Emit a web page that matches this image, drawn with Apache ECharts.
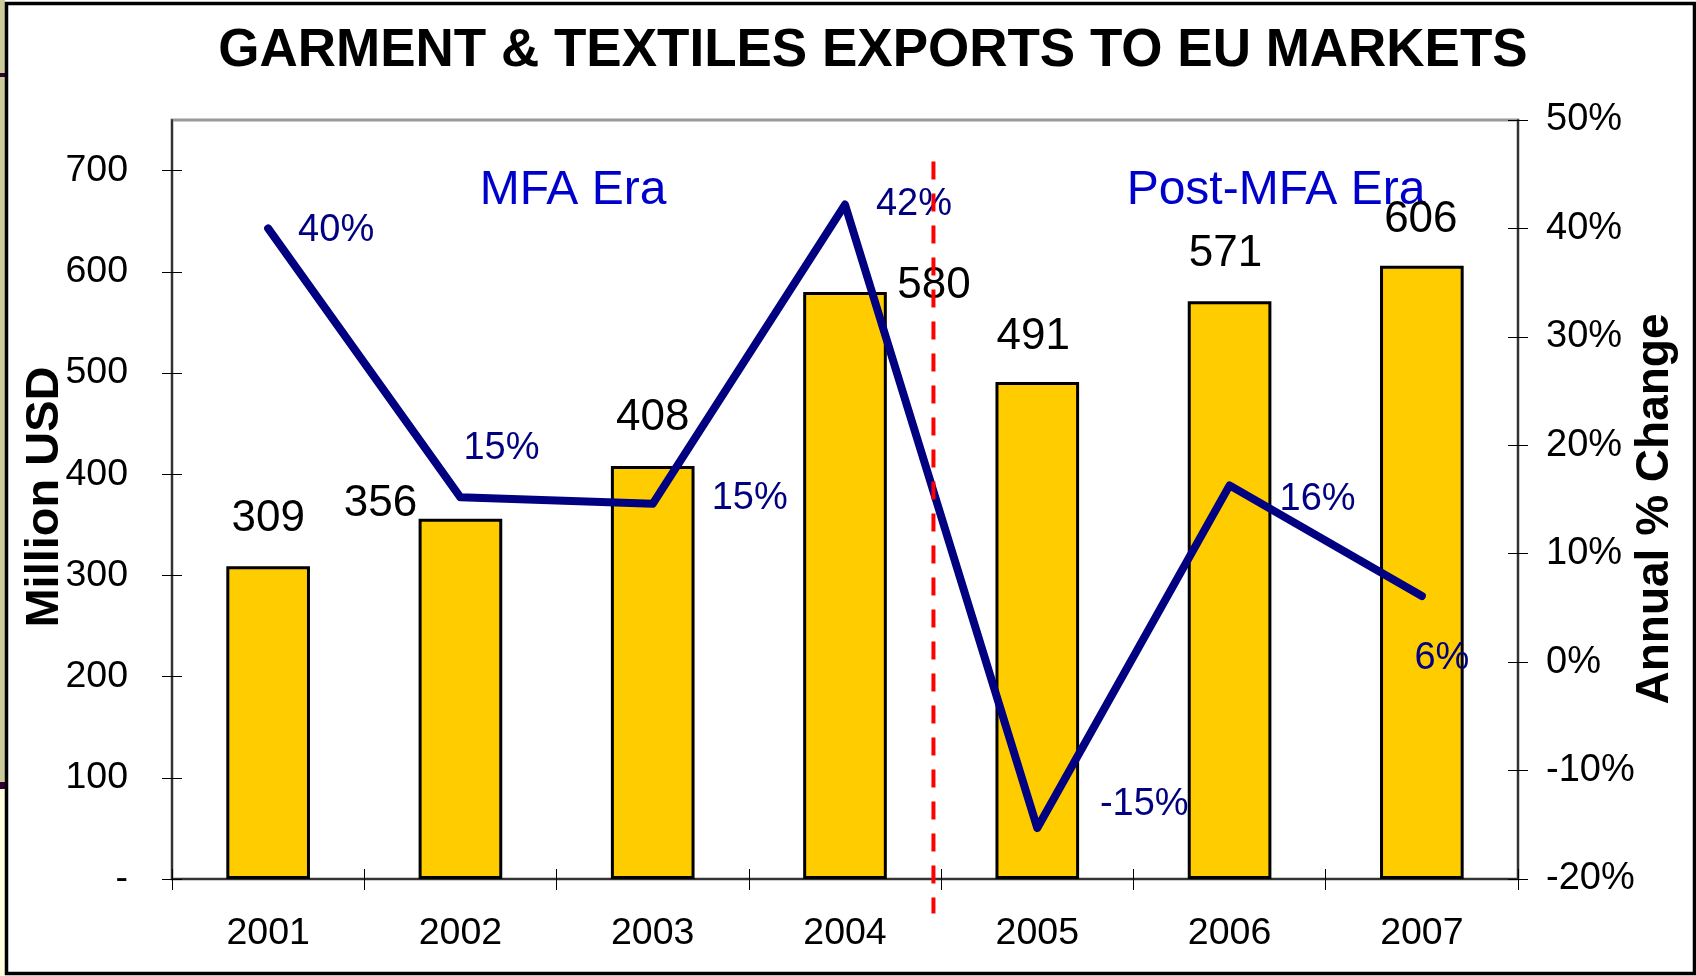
<!DOCTYPE html>
<html>
<head>
<meta charset="utf-8">
<script src="https://cdn.jsdelivr.net/npm/echarts@6/dist/echarts.min.js"></script>
<style>
  html, body { margin: 0; padding: 0; background: #ffffff; }
  #chart { width: 1696px; height: 976px; }
</style>
</head>
<body>
<div id="chart"></div>
<script>
// ---------------- data ----------------
const categories = ['2001', '2002', '2003', '2004', '2005', '2006', '2007'];
const exportsMillionUSD = [309, 356, 408, 580, 491, 571, 606];
const annualChangePct = [40, 15.2, 14.6, 42.2, -15.3, 16.3, 6.1];
const leftTicks = [0, 100, 200, 300, 400, 500, 600, 700];
const rightTicks = [-20, -10, 0, 10, 20, 30, 40, 50];
const titleText = 'GARMENT & TEXTILES EXPORTS TO EU MARKETS';
const eraLabels = ['MFA Era', 'Post-MFA Era'];
const eraSplitPosition = 3.96; // in category units from the left edge

// ---------------- layout / style ----------------
const FONT = '"Liberation Sans", Arial, sans-serif';
const barLabelOffsets = [[0, -25], [-80, 7], [0, -26], [89, 16], [-4, -23], [-4, -25], [-1, -24]];
const lineLabelOffsets = [[68, 2], [41, -49], [97, -5], [69, 0], [107, -24], [88, 14], [20, 63]];

const chart = echarts.init(document.getElementById('chart'), null, { renderer: 'canvas' });

const grid = { left: 172, right: 178, top: 120, bottom: 97 };

const option = {
  animation: false,
  backgroundColor: '#ffffff',
  grid: Object.assign({ show: true, borderColor: '#9a9a9a', borderWidth: 3, backgroundColor: '#ffffff' }, grid),
  xAxis: [
    {
      type: 'category', data: categories, position: 'bottom', boundaryGap: true,
      axisLine: { show: true, onZero: false, lineStyle: { color: '#333', width: 2 } },
      axisTick: { show: true, inside: false, length: 11, lineStyle: { color: '#000', width: 1 } },
      axisLabel: { color: '#000', fontFamily: FONT, fontSize: 37.5, margin: 36 },
      splitLine: { show: false }
    },
    {
      type: 'category', data: categories, position: 'bottom', boundaryGap: true,
      axisLine: { show: false, onZero: false },
      axisTick: { show: true, inside: true, length: 10, lineStyle: { color: '#000', width: 1 } },
      axisLabel: { show: false }, splitLine: { show: false }
    },
    { type: 'value', min: 0, max: categories.length, show: false, axisLine: { onZero: false } }
  ],
  yAxis: [
    {
      type: 'value', min: 0, max: 750, interval: 100, position: 'left',
      axisLine: { show: true, onZero: false, lineStyle: { color: '#333', width: 2 } },
      axisTick: { show: true, inside: false, length: 10, customValues: leftTicks, lineStyle: { color: '#000', width: 1 } },
      axisLabel: {
        customValues: leftTicks, color: '#000', fontFamily: FONT, fontSize: 37.5, margin: 44,
        formatter: v => (v === 0 ? '-' : String(v))
      },
      splitLine: { show: false }
    },
    {
      type: 'value', min: -20, max: 50, interval: 10, position: 'right',
      axisLine: { show: true, onZero: false, lineStyle: { color: '#333', width: 2 } },
      axisTick: { show: true, inside: false, length: 10, lineStyle: { color: '#000', width: 1 } },
      axisLabel: { color: '#000', fontFamily: FONT, fontSize: 38, margin: 28, formatter: v => v + '%' },
      splitLine: { show: false }
    },
    {
      type: 'value', min: 0, max: 750, position: 'left',
      axisLine: { show: false, onZero: false },
      axisTick: { show: true, inside: true, length: 10, customValues: leftTicks, lineStyle: { color: '#000', width: 1 } },
      axisLabel: { show: false }, splitLine: { show: false }
    },
    {
      type: 'value', min: -20, max: 50, interval: 10, position: 'right',
      axisLine: { show: false, onZero: false },
      axisTick: { show: true, inside: true, length: 10, customValues: rightTicks, lineStyle: { color: '#000', width: 1 } },
      axisLabel: { show: false }, splitLine: { show: false }
    }
  ],
  series: [
    {
      type: 'bar', name: 'Exports', xAxisIndex: 0, yAxisIndex: 0, z: 2,
      barWidth: '43.5%',
      itemStyle: { color: '#FFCC00', borderColor: '#000000', borderWidth: 3 },
      label: {
        show: true, position: 'top', distance: 0, color: '#000', fontFamily: FONT,
        fontSize: 44, lineHeight: 44
      },
      data: exportsMillionUSD.map((v, i) => ({ value: v, label: { offset: barLabelOffsets[i] } }))
    },
    {
      type: 'line', name: 'Annual change', xAxisIndex: 0, yAxisIndex: 1, z: 4,
      symbol: 'circle', symbolSize: 1, showSymbol: true,
      itemStyle: { color: 'rgba(0,0,0,0)' },
      lineStyle: { color: '#000080', width: 8, join: 'round', cap: 'round' },
      label: {
        show: true, position: 'inside', color: '#000080', fontFamily: FONT, fontSize: 38,
        formatter: p => Math.round(p.value) + '%'
      },
      data: annualChangePct.map((v, i) => ({ value: v, label: { offset: lineLabelOffsets[i] } }))
    },
    {
      type: 'line', name: 'Era split', xAxisIndex: 2, yAxisIndex: 0, z: 5,
      clip: false, symbol: 'none', silent: true,
      lineStyle: { color: '#FF0000', width: 4, type: [18, 14] },
      data: [[eraSplitPosition, 709], [eraSplitPosition, -34]]
    }
  ],
  graphic: [
    // outer frame decorations
    { type: 'rect', shape: { x: 0, y: 0, width: 5, height: 782 }, style: { fill: '#CCCC99' }, silent: true },
    { type: 'rect', shape: { x: 0, y: 782, width: 5, height: 194 }, style: { fill: '#FFFFE0' }, silent: true },
    { type: 'rect', shape: { x: 0, y: 73, width: 5, height: 4 }, style: { fill: '#330033' }, silent: true },
    { type: 'rect', shape: { x: 0, y: 782, width: 5, height: 7 }, style: { fill: '#330033' }, silent: true },
    { type: 'rect', shape: { x: 6.5, y: 3.5, width: 1688, height: 970 }, style: { fill: null, stroke: '#000', lineWidth: 3.5 }, silent: true },
    // title
    {
      type: 'text', x: 873, y: 51, silent: true,
      style: { text: titleText, font: 'bold 53px ' + FONT, fill: '#000', align: 'center', verticalAlign: 'middle', textAlign: 'center', textVerticalAlign: 'middle' }
    },
    // axis names
    {
      type: 'text', x: 45, y: 497, rotation: Math.PI / 2, silent: true,
      style: { text: 'Million USD', font: 'bold 47px ' + FONT, fill: '#000', align: 'center', verticalAlign: 'middle', textAlign: 'center', textVerticalAlign: 'middle' }
    },
    {
      type: 'text', x: 1655, y: 509, rotation: Math.PI / 2, silent: true,
      style: { text: 'Annual % Change', font: 'bold 46px ' + FONT, fill: '#000', align: 'center', verticalAlign: 'middle', textAlign: 'center', textVerticalAlign: 'middle' }
    },
    // era labels
    {
      type: 'text', x: 573, y: 191, silent: true,
      style: { text: eraLabels[0], font: '48px ' + FONT, fill: '#0000CC', align: 'center', verticalAlign: 'middle', textAlign: 'center', textVerticalAlign: 'middle' }
    },
    {
      type: 'text', x: 1276, y: 191, silent: true,
      style: { text: eraLabels[1], font: '48px ' + FONT, fill: '#0000CC', align: 'center', verticalAlign: 'middle', textAlign: 'center', textVerticalAlign: 'middle' }
    }
  ]
};

chart.setOption(option);
</script>
</body>
</html>
